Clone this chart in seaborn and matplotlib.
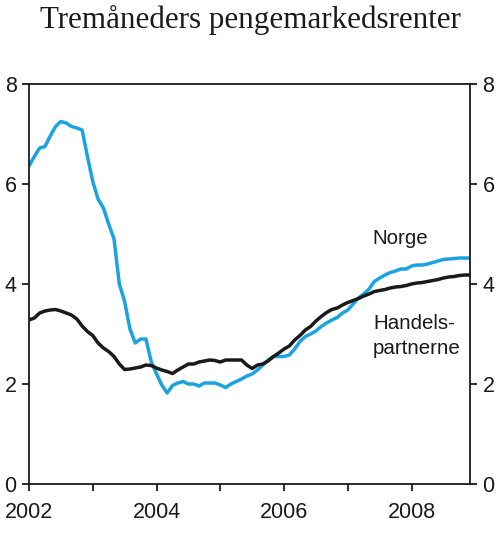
import numpy as np
import pandas as pd
import matplotlib
matplotlib.use("Agg")
import matplotlib.pyplot as plt
import seaborn as sns

# Tremåneders renter, månedlig jan 2002 - des 2008
norge = [6.36, 6.55, 6.72, 6.75, 6.96, 7.15, 7.25, 7.22, 7.15, 7.12, 7.08, 6.55,
         6.05, 5.70, 5.52, 5.20, 4.90, 4.00, 3.65, 3.10, 2.82, 2.90, 2.90, 2.45,
         2.20, 1.98, 1.82, 1.97, 2.02, 2.05, 2.00, 2.00, 1.96, 2.02, 2.02, 2.02,
         1.98, 1.93, 2.00, 2.05, 2.10, 2.16, 2.20, 2.28, 2.38, 2.48, 2.55, 2.55,
         2.55, 2.58, 2.70, 2.85, 2.95, 3.00, 3.06, 3.15, 3.22, 3.28, 3.33, 3.42,
         3.48, 3.60, 3.72, 3.80, 3.90, 4.05, 4.12, 4.18, 4.23, 4.26, 4.30, 4.30,
         4.36, 4.38, 4.38, 4.40, 4.43, 4.46, 4.49, 4.50, 4.51, 4.52, 4.52, 4.52]
handel = [3.28, 3.32, 3.42, 3.46, 3.48, 3.49, 3.46, 3.42, 3.38, 3.30, 3.16, 3.05,
          2.97, 2.82, 2.72, 2.65, 2.55, 2.40, 2.29, 2.30, 2.32, 2.34, 2.38, 2.37,
          2.32, 2.28, 2.25, 2.21, 2.28, 2.34, 2.40, 2.40, 2.44, 2.46, 2.48, 2.47,
          2.44, 2.48, 2.48, 2.48, 2.48, 2.38, 2.31, 2.38, 2.40, 2.46, 2.55, 2.62,
          2.70, 2.76, 2.88, 2.97, 3.08, 3.15, 3.26, 3.35, 3.43, 3.49, 3.52, 3.58,
          3.63, 3.67, 3.71, 3.76, 3.80, 3.85, 3.87, 3.89, 3.92, 3.94, 3.95, 3.97,
          4.00, 4.02, 4.03, 4.05, 4.07, 4.09, 4.12, 4.14, 4.15, 4.17, 4.18, 4.18]
serier = ["Norge", "Handelspartnerne"]
farger = ["#1aa3e0", "#1a1a1a"]
aar = list(range(2002, 2009))
aar_etiketter = ["2002", "", "2004", "", "2006", "", "2008"]
y_ticks = [0, 2, 4, 6, 8]

tid = 2002 + np.arange(len(norge)) / 12
df = pd.DataFrame({
    "tid": np.concatenate([tid, tid]),
    "rente": norge + handel,
    "serie": [serier[0]] * len(norge) + [serier[1]] * len(handel),
})

sns.set_style("ticks")
plt.rcParams["font.family"] = ["Liberation Sans", "DejaVu Sans"]

fig = plt.figure(figsize=(5.0, 5.34), dpi=100)
ax = fig.add_axes([0.058, 0.0936, 0.882, 0.7491])
sns.lineplot(data=df, x="tid", y="rente", hue="serie", palette=farger,
             linewidth=2.5, legend=False, ax=ax)

ax.set_xlim(2002, 2002 + 83 / 12)
ax.set_ylim(0, 8)
ax.set_xticks(aar)
ax.set_xticklabels(aar_etiketter)
ax.set_yticks(y_ticks)
ax.set_xlabel("")
ax.set_ylabel("")
for s in ax.spines.values():
    s.set_visible(True)
    s.set_linewidth(1.3)
    s.set_color("#1a1a1a")
ax.tick_params(axis="both", which="both", direction="out", length=5, width=1.3,
               color="#1a1a1a", labelsize=15.5, labelcolor="#1a1a1a", pad=5)
ax.tick_params(axis="y", left=True, right=True, labelleft=True, labelright=True, pad=4)
ax.tick_params(axis="x", pad=8)

# etiketter
ax.text(2007.39, 4.81, "Norge", fontsize=14.8, color="#1a1a1a", ha="left")
ax.text(2007.40, 3.11, "Handels-", fontsize=14.8, color="#1a1a1a", ha="left")
ax.text(2007.39, 2.61, "partnerne", fontsize=14.8, color="#1a1a1a", ha="left")

fig.text(0.5, 0.962, "Tremåneders pengemarkedsrenter", ha="center", va="center",
         fontsize=22.3, family="Liberation Serif", color="#1a1a1a")

fig.savefig("out.png", dpi=100)
